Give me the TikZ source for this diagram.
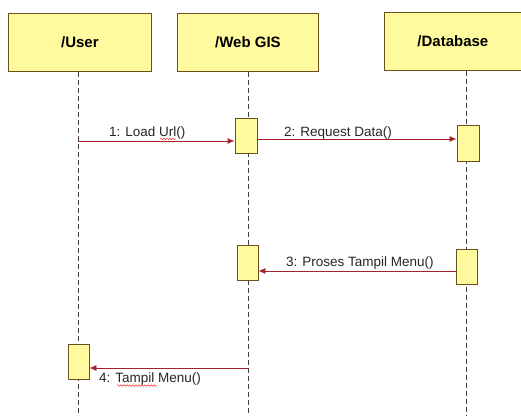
\documentclass[tikz,border=0pt]{standalone}
\usepackage{fontspec}
\setmainfont{Liberation Sans}
\usetikzlibrary{arrows.meta,decorations.pathmorphing}
\definecolor{boxfill}{HTML}{FFFA9E}
\definecolor{boxline}{HTML}{6E5020}
\definecolor{msgred}{HTML}{A8202A}
\definecolor{lifegrey}{HTML}{404040}
\tikzset{
  head/.style={draw=boxline, fill=boxfill, line width=0.8pt, anchor=north west, inner sep=0pt,
    font=\fontsize{15}{17}\selectfont\bfseries},
  actbox/.style={draw=boxline, fill=boxfill, line width=0.9pt},
  lifeline/.style={draw=lifegrey, line width=0.9pt, dash pattern=on 5pt off 3pt},
  msg/.style={draw=msgred, line width=0.9pt, -{Latex[length=7pt,width=6pt]}},
  lbl/.style={font=\fontsize{13.5}{15}\selectfont, text=black!85, inner sep=1pt},
  squig/.style={draw=red!80, line width=0.5pt, decorate, decoration={snake, amplitude=0.8pt, segment length=3pt}}
}
\begin{document}
\begin{tikzpicture}[x=1pt,y=-1pt]
\useasboundingbox[fill=white] (0,0) rectangle (521,415);
% header boxes
\node[head, minimum width=143pt, minimum height=58pt] (user) at (8,13) {/User};
\node[head, minimum width=141pt, minimum height=58pt] (web) at (177,13) {/Web GIS};
\node[head, minimum width=137pt, minimum height=58pt] (db) at (384,12) {/Database};
% lifeline ends
\coordinate (uend) at (78,415);
\coordinate (wend) at (248,415);
\coordinate (dend) at (466,415);
\draw[lifeline] (user.south -| 78,0) -- (uend);
\draw[lifeline] (web.south -| 248,0) -- (wend);
\draw[lifeline] (db.south -| 466,0) -- (dend);
% activations
\node[actbox, minimum width=22pt, minimum height=35pt, inner sep=0pt] (w1) at (246,135.5) {};
\node[actbox, minimum width=22pt, minimum height=36pt, inner sep=0pt] (d1) at (468,143) {};
\node[actbox, minimum width=21pt, minimum height=35pt, inner sep=0pt] (w2) at (247.5,262.5) {};
\node[actbox, minimum width=21pt, minimum height=35pt, inner sep=0pt] (d2) at (466.5,266.5) {};
\node[actbox, minimum width=21pt, minimum height=35pt, inner sep=0pt] (u1) at (78.5,361.5) {};
% messages
\coordinate (m1s) at (78,141);
\draw[msg] (m1s) -- (w1.west |- m1s);
\node[lbl, anchor=base west] (l1) at (108,136) {1: Load Url()};
\draw[squig] (160,139) -- (176,139);
\coordinate (m2s) at (w1.east |- 0,139);
\draw[msg] (m2s) -- (d1.west |- m2s);
\node[lbl, anchor=base west] (l2) at (283,136) {2: Request Data()};
\coordinate (m3s) at (d2.west |- 0,271);
\draw[msg] (m3s) -- (w2.east |- m3s);
\node[lbl, anchor=base west] (l3) at (285,266) {3: Proses Tampil Menu()};
\coordinate (m4s) at (248,368);
\draw[msg] (m4s) -- (u1.east |- m4s);
\node[lbl, anchor=base west] (l4) at (98,382) {4: Tampil Menu()};
\draw[squig] (117,385.5) -- (157,385.5);
\end{tikzpicture}
\end{document}
